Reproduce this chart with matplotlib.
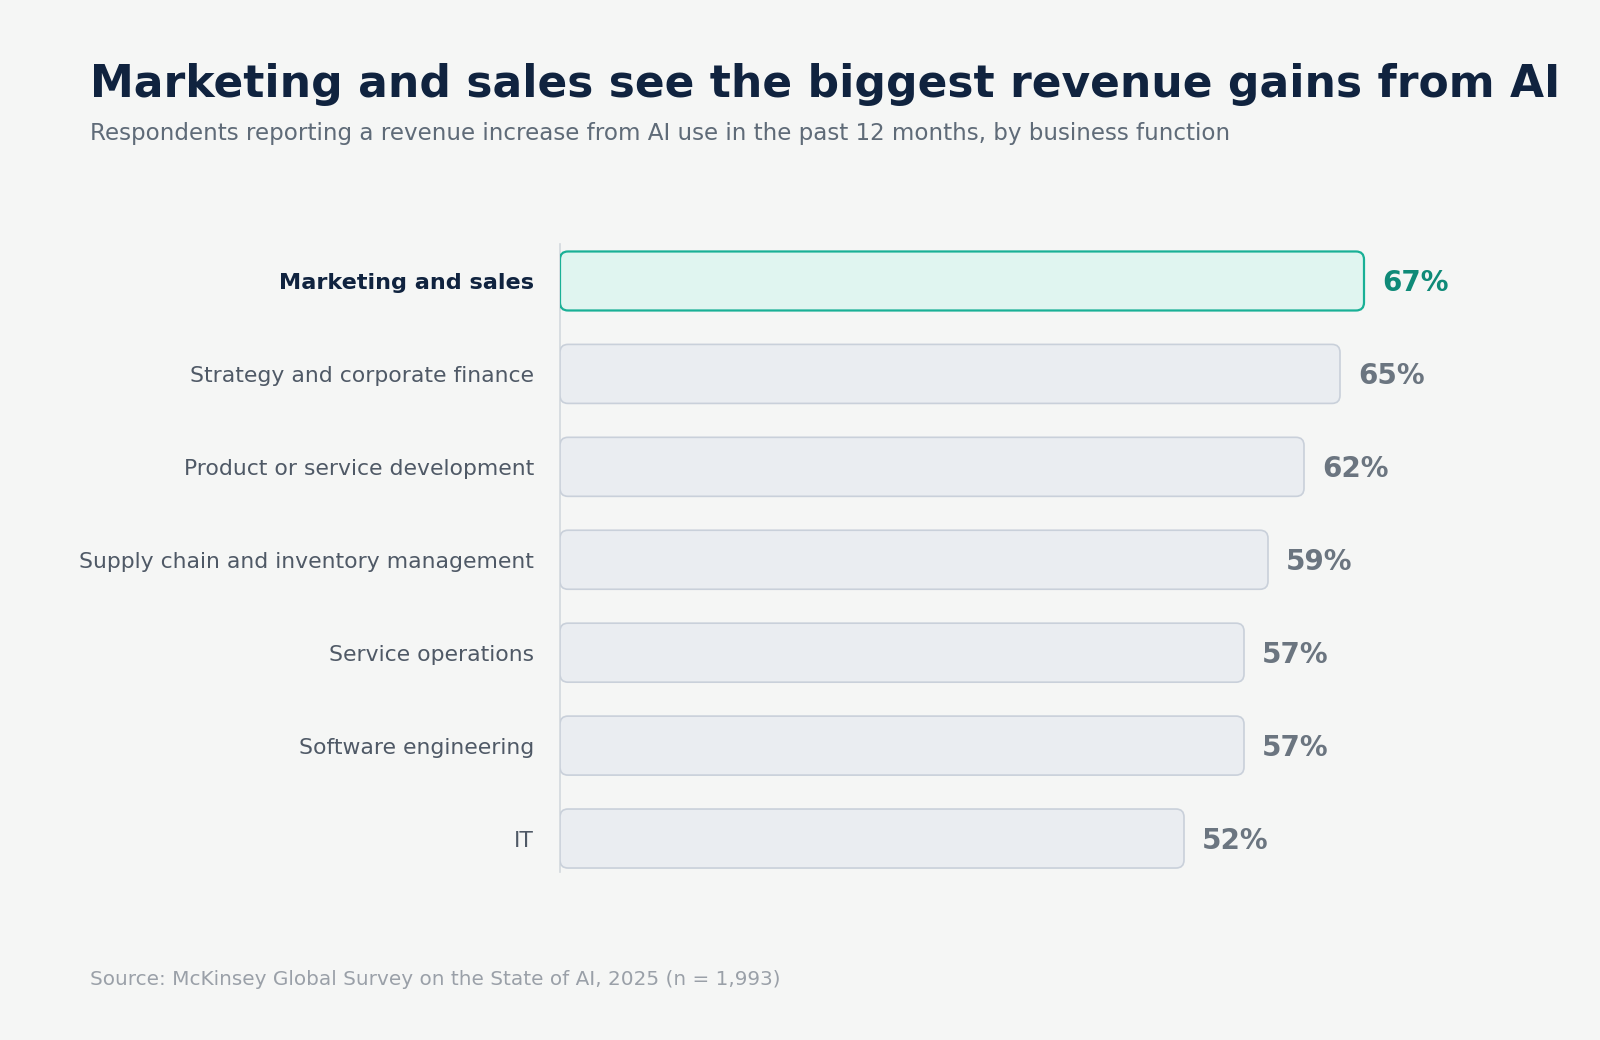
import matplotlib
matplotlib.use("Agg")
import matplotlib.pyplot as plt
from matplotlib.patches import FancyBboxPatch

categories = [
    "Marketing and sales",
    "Strategy and corporate finance",
    "Product or service development",
    "Supply chain and inventory management",
    "Service operations",
    "Software engineering",
    "IT",
]
values = [67, 65, 62, 59, 57, 57, 52]
value_labels = ["67%", "65%", "62%", "59%", "57%", "57%", "52%"]

BG = "#f5f6f5"
NAVY = "#10233f"
W, H = 1600, 1040

fig = plt.figure(figsize=(16, 10.4), dpi=100, facecolor=BG)
ax_left, ax_top, ax_bot = 560, 244, 871.7
px_per_unit = 12.0
xmax = 80
ax = fig.add_axes([ax_left / W, 1 - ax_bot / H, xmax * px_per_unit / W, (ax_bot - ax_top) / H])
ax.set_facecolor(BG)
ax.set_xlim(0, xmax)
ax.set_ylim(6.357, -0.398)
for s in ["top", "right", "bottom"]:
    ax.spines[s].set_visible(False)
ax.spines["left"].set_color("#d3d8de")
ax.spines["left"].set_linewidth(1.2)
ax.set_xticks([])
ax.set_yticks([])

pitch_px = (ax_bot - ax_top) / (6.357 + 0.398)
bar_h = 0.635
r_px = 8
aspect = px_per_unit / pitch_px

for i, (cat, v, lab) in enumerate(zip(categories, values, value_labels)):
    hi = i == 0
    face = "#e0f5f0" if hi else "#eaedf1"
    edge = "#19b096" if hi else "#c9d0da"
    lw = 1.6 if hi else 1.2
    p = FancyBboxPatch((0, i - bar_h / 2), v, bar_h,
                       boxstyle=f"round,pad=0,rounding_size={r_px / px_per_unit}",
                       mutation_aspect=aspect,
                       facecolor=face, edgecolor=edge, linewidth=lw, zorder=3)
    ax.add_patch(p)
    ax.text(v + 18 / px_per_unit, i - 0.01, lab, ha="left", va="center_baseline",
            fontsize=20, fontweight="bold",
            color="#0f8a78" if hi else "#6b7580", zorder=4)
    ax.text(-26 / px_per_unit, i, cat, ha="right", va="center_baseline",
            fontsize=16.1 if hi else 15.75, fontweight="bold" if hi else "normal",
            color=NAVY if hi else "#4f5966", clip_on=False)

fig.text(90 / W, 1 - 96.5 / H, "Marketing and sales see the biggest revenue gains from AI",
         fontsize=31.7, fontweight="bold", color=NAVY, ha="left", va="baseline")
fig.text(90 / W, 1 - 140 / H,
         "Respondents reporting a revenue increase from AI use in the past 12 months, by business function",
         fontsize=16.6, color="#5f6b78", ha="left", va="baseline")
fig.text(90 / W, 1 - 985 / H, "Source: McKinsey Global Survey on the State of AI, 2025 (n = 1,993)",
         fontsize=14.45, color="#9aa0a8", ha="left", va="baseline")

fig.savefig("out.png", dpi=100, facecolor=BG)
